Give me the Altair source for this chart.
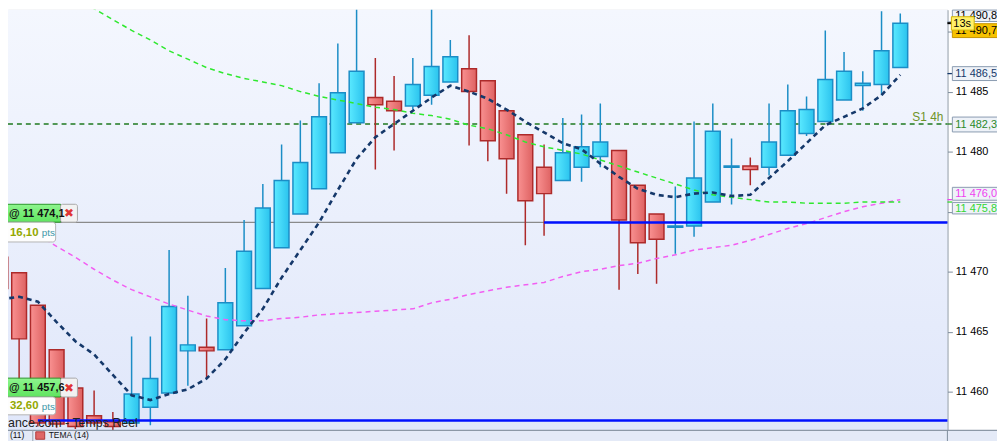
import altair as alt
import pandas as pd

# ---------------- data ----------------
idx = list(range(49))
opens = [11471.2, 11469.9, 11467.2, 11463.5, 11460.3, 11458.0, 11457.5, 11457.4, 11458.7, 11459.9,
         11463.4, 11463.7, 11463.5, 11465.5, 11468.6, 11472.0, 11474.8, 11476.9, 11479.9, 11482.4,
         11484.5, 11484.2, 11483.8, 11484.7, 11485.8, 11486.9, 11485.9, 11483.4, 11481.4, 11478.7,
         11477.6, 11478.7, 11479.6, 11480.1, 11477.2, 11474.8, 11473.7, 11473.8, 11475.8, 11478.7,
         11478.8, 11478.7, 11479.7, 11481.5, 11482.5, 11484.3, 11485.5, 11485.6, 11487.0]
highs = [11472.2, 11469.9, 11467.2, 11463.5, 11460.3, 11460.1, 11458.3, 11464.6, 11464.6, 11471.8,
         11468.0, 11466.1, 11470.3, 11474.3, 11477.3, 11480.6, 11482.6, 11485.7, 11489.0, 11492.6,
         11487.8, 11486.3, 11487.8, 11492.3, 11489.3, 11489.7, 11485.9, 11483.4, 11481.4, 11480.6,
         11482.8, 11483.1, 11484.0, 11480.1, 11477.2, 11474.8, 11477.1, 11482.5, 11484.0, 11481.1,
         11479.5, 11484.0, 11485.6, 11484.6, 11490.1, 11488.3, 11486.7, 11491.7, 11491.5]
lows = [11464.2, 11460.7, 11457.1, 11457.0, 11456.9, 11457.2, 11456.8, 11457.4, 11457.2, 11459.9,
        11460.5, 11461.1, 11463.5, 11465.5, 11468.6, 11472.0, 11474.8, 11476.9, 11479.9, 11482.4,
        11478.5, 11480.1, 11483.5, 11483.9, 11485.8, 11480.5, 11479.2, 11476.5, 11472.2, 11473.0,
        11477.6, 11477.5, 11478.7, 11468.5, 11469.8, 11469.0, 11471.5, 11472.9, 11475.8, 11475.6,
        11477.2, 11478.0, 11479.7, 11481.3, 11482.5, 11484.3, 11483.4, 11484.7, 11487.0]
closes = [11468.6, 11464.4, 11457.4, 11457.3, 11457.1, 11457.4, 11457.1, 11459.8, 11461.1, 11467.1,
          11463.9, 11463.4, 11467.4, 11471.7, 11475.3, 11477.6, 11479.1, 11482.9, 11484.9, 11486.7,
          11483.9, 11483.4, 11485.6, 11487.1, 11487.9, 11485.0, 11480.9, 11479.4, 11475.9, 11476.5,
          11479.9, 11480.4, 11480.8, 11474.3, 11472.4, 11472.7, 11473.8, 11477.8, 11481.7, 11478.8,
          11478.5, 11480.8, 11483.4, 11483.5, 11486.0, 11486.7, 11485.7, 11488.4, 11490.7]
tema = [11467.7, 11467.9, 11467.5, 11465.8, 11464.2, 11463.1, 11461.4, 11459.7, 11459.3, 11459.8,
        11460.2, 11461.1, 11462.7, 11464.9, 11466.9, 11469.5, 11471.8, 11474.1, 11476.8, 11479.4,
        11481.2, 11482.3, 11483.4, 11484.5, 11485.5, 11485.0, 11484.4, 11483.5, 11482.5, 11481.6,
        11480.7, 11480.2, 11479.0, 11477.9, 11476.9, 11476.4, 11476.2, 11476.5, 11476.6, 11476.3,
        11476.4, 11477.8, 11479.2, 11480.7, 11482.2, 11482.9, 11483.6, 11484.7, 11486.4]
ma_green = [None] * 4 + [
    11492.7, 11491.9, 11491.0, 11490.1, 11489.3, 11488.4, 11487.7, 11487.0, 11486.5, 11486.1,
    11485.8, 11485.5, 11485.0, 11484.6, 11484.3, 11484.0, 11483.7, 11483.5, 11483.2, 11483.0,
    11482.7, 11482.2, 11481.9, 11481.4, 11480.8, 11480.4, 11480.1, 11479.8, 11479.3, 11478.8,
    11478.3, 11477.8, 11477.3, 11476.8, 11476.4, 11476.2, 11476.0, 11475.8, 11475.8, 11475.7,
    11475.7, 11475.7, 11475.8, 11475.8, 11475.8]
ma_pink = [None] * 2 + [
    11473.1, 11472.1, 11471.2, 11470.2, 11469.3, 11468.5, 11467.9, 11467.3, 11466.8, 11466.3,
    11466.0, 11465.9, 11465.9, 11466.1, 11466.2, 11466.4, 11466.5, 11466.6, 11466.7, 11466.8,
    11466.9, 11467.4, 11467.7, 11468.1, 11468.4, 11468.7, 11468.9, 11469.1, 11469.6, 11470.0,
    11470.2, 11470.5, 11470.7, 11471.1, 11471.4, 11471.8, 11472.0, 11472.2, 11472.6, 11473.1,
    11473.6, 11474.0, 11474.5, 11475.0, 11475.4, 11475.7, 11476.0]

pivot_price = [11482.3]
pivot_label = ["S1 4h"]
order_prices = [11474.1, 11457.6]
order_texts = ["@ 11 474,1", "@ 11 457,6"]
order_pts = ["16,10", "32,60"]
support_prices = [11474.1, 11457.6]
support_start = [29, 2]
tag_prices = [11490.8, 11490.7, 11486.5, 11482.3, 11476.0, 11475.8]
tag_texts = ["11 490,8", "11 490,7", "11 486,5", "11 482,3", "11 476,0", "11 475,8"]
timer_text = ["13s"]
legend_texts = ["(11)", "TEMA (14)"]
watermark = ["ance.com - Temps Réel"]
axis_ticks = [11460, 11465, 11470, 11475, 11480, 11485, 11490]

# ---------------- frame ----------------
W, H = 947, 424
xs = alt.Scale(domain=[0.407, 50.513], nice=False, zero=False)
ys = alt.Scale(domain=[11456.78, 11491.82], nice=False, zero=False)
yax = alt.Axis(orient="right", values=axis_ticks, title=None, grid=False,
               labelExpr="(datum.value==11475||datum.value==11490)?'':replace(format(datum.value, ','), ',', ' ')",
               tickSize=5, tickColor="#7d8c9c", domainColor="#7d8c9c", labelColor="#000000",
               labelFont="Liberation Sans", labelFontSize=11, labelPadding=3)


def X(f):
    return alt.X(f, type="quantitative", scale=xs, axis=None)


def Y(f):
    return alt.Y(f, type="quantitative", scale=ys, axis=yax)


df = pd.DataFrame({"i": idx, "open": opens, "high": highs, "low": lows, "close": closes,
                   "tema": tema, "ma_green": ma_green, "ma_pink": ma_pink})
df["top"] = df[["open", "close"]].max(axis=1)
df["bot"] = df[["open", "close"]].min(axis=1)
df["xl"] = df["i"] - 0.395
df["xr"] = df["i"] + 0.395

one = pd.DataFrame({"a": [0]})

BLUE_EDGE = "#1b8dc6"
RED_EDGE = "#ad2a2a"
blue_grad = alt.LinearGradient(gradient="linear", x1=0, x2=1, y1=0, y2=0,
                               stops=[alt.GradientStop(color="#5ae9ff", offset=0),
                                      alt.GradientStop(color="#2bc3ee", offset=1)])
red_grad = alt.LinearGradient(gradient="linear", x1=0, x2=1, y1=0, y2=0,
                              stops=[alt.GradientStop(color="#f99191", offset=0),
                                     alt.GradientStop(color="#de6262", offset=1)])
bg_grad = alt.LinearGradient(gradient="linear", x1=0, x2=0, y1=0, y2=1,
                             stops=[alt.GradientStop(color="#f4f7fe", offset=0),
                                    alt.GradientStop(color="#e0e7fa", offset=1)])

layers = []

# plot background
layers.append(alt.Chart(one).mark_rect(fill=bg_grad).encode(
    x=alt.value(0), x2=alt.value(W), y=alt.value(0), y2=alt.value(H)))

# pivot line S1
piv = pd.DataFrame({"p": pivot_price, "t": pivot_label})
layers.append(alt.Chart(piv).mark_rule(color="#1f7a1f", strokeWidth=1.3, strokeDash=[5, 4]).encode(
    x=alt.value(0), x2=alt.value(W), y=Y("p")))

# order line (gray)
orders = pd.DataFrame({"p": order_prices, "t": order_texts, "pts": order_pts})
layers.append(alt.Chart(orders.iloc[[0]]).mark_rule(color="#8a8a8a", strokeWidth=1.3).encode(
    x=alt.value(0), x2=alt.value(W), y=Y("p")))

# wicks
layers.append(alt.Chart(df).transform_filter("datum.close >= datum.open").mark_rule(
    color=BLUE_EDGE, strokeWidth=1.5, clip=True).encode(x=X("i"), y=Y("low"), y2=alt.Y2("high")))
layers.append(alt.Chart(df).transform_filter("datum.close < datum.open").mark_rule(
    color=RED_EDGE, strokeWidth=1.5, clip=True).encode(x=X("i"), y=Y("low"), y2=alt.Y2("high")))

# bodies
layers.append(alt.Chart(df).transform_filter("datum.close >= datum.open").mark_rect(
    fill=blue_grad, stroke=BLUE_EDGE, strokeWidth=1.5, clip=True).encode(
    x=X("xl"), x2=alt.X2("xr"), y=Y("top"), y2=alt.Y2("bot")))
layers.append(alt.Chart(df).transform_filter("datum.close < datum.open").mark_rect(
    fill=red_grad, stroke=RED_EDGE, strokeWidth=1.5, clip=True).encode(
    x=X("xl"), x2=alt.X2("xr"), y=Y("top"), y2=alt.Y2("bot")))

# moving averages
layers.append(alt.Chart(df).mark_line(color="#f25ef2", strokeWidth=1.5, strokeDash=[5, 4], clip=True).encode(
    x=X("i"), y=Y("ma_pink")))
layers.append(alt.Chart(df).mark_line(color="#2fe82f", strokeWidth=1.5, strokeDash=[5, 4], clip=True).encode(
    x=X("i"), y=Y("ma_green")))
layers.append(alt.Chart(df).mark_line(color="#15386a", strokeWidth=2.6, strokeDash=[5, 4], clip=True).encode(
    x=X("i"), y=Y("tema")))

# support lines (blue)
sup = pd.DataFrame({"p": support_prices, "s": support_start})
layers.append(alt.Chart(sup).mark_rule(color="#0010ff", strokeWidth=2.5).encode(
    x=X("s"), x2=alt.value(W), y=Y("p")))

# watermark
wm = pd.DataFrame({"p": [order_prices[1]], "t": watermark})
layers.append(alt.Chart(wm).mark_text(align="left", baseline="middle", fontSize=12.5, color="#222222",
                                      yOffset=3).encode(x=alt.value(0), y=Y("p"), text="t:N"))

# S1 label
layers.append(alt.Chart(piv).mark_text(align="right", baseline="middle", fontSize=12, color="#6f9428",
                                       yOffset=-7).encode(x=alt.value(W - 4), y=Y("p"), text="t:N"))

# order tags (left)
tag_offsets = [(-18.3, -0.3, -0.3, 19.7), (-42.7, -23.7, -23.7, -5.7)]
for k in range(2):
    d = orders.iloc[[k]]
    t1, b1, t2, b2 = tag_offsets[k]
    green_grad = alt.LinearGradient(gradient="linear", x1=0, x2=0, y1=0, y2=1,
                                    stops=[alt.GradientStop(color="#8ef58e", offset=0),
                                           alt.GradientStop(color="#5fe45f", offset=1)])
    layers.append(alt.Chart(d).mark_rect(fill=green_grad, stroke="#2a962a", strokeWidth=1,
                                         yOffset=t1, y2Offset=b1).encode(
        x=alt.value(-2), x2=alt.value(53), y=Y("p"), y2=alt.Y2("p")))
    layers.append(alt.Chart(d).mark_rect(fill="#f2f2f2", stroke="#a8a8a8", strokeWidth=1, cornerRadius=2,
                                         yOffset=t1, y2Offset=b1).encode(
        x=alt.value(53), x2=alt.value(70), y=Y("p"), y2=alt.Y2("p")))
    layers.append(alt.Chart(d).mark_text(align="left", baseline="middle", fontSize=11, fontWeight="bold",
                                         color="#111111", yOffset=(t1 + b1) / 2 + 0.5).encode(
        x=alt.value(1), y=Y("p"), text="t:N"))
    layers.append(alt.Chart(d).mark_text(align="center", baseline="middle", fontSize=12, fontWeight="bold",
                                         color="#e03434", font="DejaVu Sans", yOffset=(t1 + b1) / 2).encode(
        x=alt.value(61.5), y=Y("p"), text=alt.value("✖")))
    layers.append(alt.Chart(d).mark_rect(fill="#fdfdfd", stroke="#b4b4b4", strokeWidth=1, cornerRadius=3,
                                         yOffset=t2, y2Offset=b2).encode(
        x=alt.value(-4), x2=alt.value(48), y=Y("p"), y2=alt.Y2("p")))
    layers.append(alt.Chart(d).mark_text(align="left", baseline="middle", fontSize=11.5, fontWeight="bold",
                                         color="#93a800", yOffset=(t2 + b2) / 2 + 0.5).encode(
        x=alt.value(2), y=Y("p"), text="pts:N"))
    layers.append(alt.Chart(d).mark_text(align="left", baseline="middle", fontSize=10,
                                         color="#3d98aa", yOffset=(t2 + b2) / 2 + 1).encode(
        x=alt.value(34), y=Y("p"), text=alt.value("pts")))

# right side price tags
tags = pd.DataFrame({"p": tag_prices, "t": tag_texts})
tag_style = [
    ("#000000", "#eef2f8", "#8a9bb0", -12, -0.5),
    ("#000000", "#f7c200", "#c49400", 0.5, 14.5),
    ("#15386a", "#eef2f8", "#8a9bb0", -7, 7),
    ("#2a8a2a", "#eef2f8", "#8a9bb0", -7, 8),
    ("#f040f0", "#eef2f8", "#8a9bb0", -12.4, 0.6),
    ("#33d633", "#eef2f8", "#8a9bb0", 0.4, 12),
]
tick_colors = ["#8a9bb0", "#000000", "#15386a", "#1f7a1f", "#f040f0", "#33d633"]
for k, (tc, fc, sc, top, bot) in enumerate(tag_style):
    d = tags.iloc[[k]]
    layers.append(alt.Chart(d).mark_rule(color=tick_colors[k], strokeWidth=2 if k == 1 else 1.3).encode(
        x=alt.value(W), x2=alt.value(W + 5), y=Y("p")))
    layers.append(alt.Chart(d).mark_rect(fill=fc, stroke=sc, strokeWidth=1, yOffset=top, y2Offset=bot).encode(
        x=alt.value(W + 5), x2=alt.value(W + 60), y=Y("p"), y2=alt.Y2("p")))
    layers.append(alt.Chart(d).mark_text(align="left", baseline="middle", fontSize=11, color=tc,
                                         yOffset=(top + bot) / 2 + 0.5).encode(
        x=alt.value(W + 8), y=Y("p"), text="t:N"))
    if k == 1:
        tm = pd.DataFrame({"p": [tag_prices[1]], "t": timer_text})
        layers.append(alt.Chart(tm).mark_rect(fill="#fff06a", stroke="#d2b300", strokeWidth=1,
                                              yOffset=-6.5, y2Offset=7).encode(
            x=alt.value(W + 4), x2=alt.value(W + 27), y=Y("p"), y2=alt.Y2("p")))
        layers.append(alt.Chart(tm).mark_text(align="left", baseline="middle", fontSize=11, color="#000000",
                                              yOffset=0.8).encode(x=alt.value(W + 6), y=Y("p"), text="t:N"))

# bottom legend strip
layers.append(alt.Chart(one).mark_rect(fill="#e4eaf7").encode(
    x=alt.value(0), x2=alt.value(W + 60), y=alt.value(H), y2=alt.value(H + 12)))
layers.append(alt.Chart(one).mark_rule(color="#8c98a6", strokeWidth=1.2).encode(
    x=alt.value(0), x2=alt.value(W + 60), y=alt.value(H)))
layers.append(alt.Chart(one).mark_rule(color="#7d8c9c", strokeWidth=1).encode(
    x=alt.value(W), y=alt.value(H), y2=alt.value(H + 12)))
layers.append(alt.Chart(one).mark_rule(color="#9aa4b0", strokeWidth=1).encode(
    x=alt.value(25), y=alt.value(H), y2=alt.value(H + 12)))
layers.append(alt.Chart(one).mark_rect(fill="#e06666", stroke="#b03a3a", strokeWidth=1).encode(
    x=alt.value(28), x2=alt.value(37), y=alt.value(H + 1.5), y2=alt.value(H + 9)))
leg = pd.DataFrame({"t": legend_texts})
layers.append(alt.Chart(leg.iloc[[0]]).mark_text(align="left", baseline="top", fontSize=8.5,
                                                 color="#111111").encode(
    x=alt.value(2), y=alt.value(H + 1), text="t:N"))
layers.append(alt.Chart(leg.iloc[[1]]).mark_text(align="left", baseline="top", fontSize=8.5,
                                                 color="#111111").encode(
    x=alt.value(41), y=alt.value(H + 1), text="t:N"))

chart = alt.layer(*layers).properties(
    width=W, height=H,
    autosize=alt.AutoSizeParams(type="none"),
    padding={"left": 0, "top": 0, "right": 50, "bottom": 9},
    background="#ffffff",
).configure_view(stroke=None).configure(font="Liberation Sans")

chart.save("out.html", embed_options={"renderer": "svg", "actions": False})
